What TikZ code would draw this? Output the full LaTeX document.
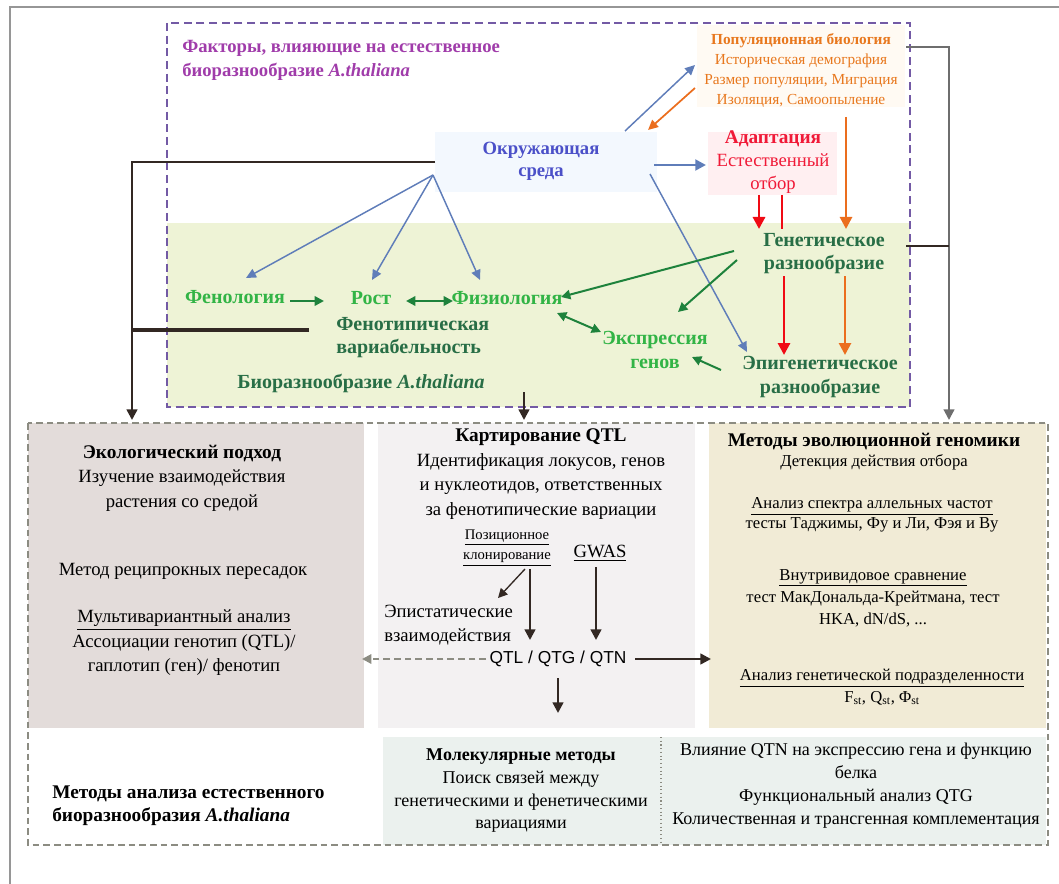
\documentclass[tikz,border=0pt]{standalone}
\usepackage{fontspec}
\setmainfont{Liberation Serif}
\newfontfamily\sansf{Liberation Sans}
\usetikzlibrary{arrows.meta}
\definecolor{framegray}{RGB}{150,150,150}
\definecolor{purpledash}{RGB}{115,90,165}
\definecolor{greenbg}{RGB}{238,243,214}
\definecolor{envbg}{RGB}{243,248,254}
\definecolor{envtxt}{RGB}{75,80,200}
\definecolor{popbg}{RGB}{255,250,243}
\definecolor{poptxt}{RGB}{232,120,30}
\definecolor{adabg}{RGB}{255,239,241}
\definecolor{adatxt}{RGB}{240,25,55}
\definecolor{titlepurple}{RGB}{160,60,170}
\definecolor{lgreen}{RGB}{50,180,70}
\definecolor{dgreen}{RGB}{40,110,70}
\definecolor{agreen}{RGB}{30,130,60}
\definecolor{ablue}{RGB}{95,125,185}
\definecolor{aorange}{RGB}{235,110,30}
\definecolor{ared}{RGB}{240,10,20}
\definecolor{darkc}{RGB}{50,40,35}
\definecolor{graylink}{RGB}{110,110,110}
\definecolor{ecobg}{RGB}{227,220,218}
\definecolor{qtlbg}{RGB}{243,241,242}
\definecolor{evobg}{RGB}{241,235,214}
\definecolor{molbg}{RGB}{235,241,238}
\definecolor{dashgray}{RGB}{140,140,130}
\tikzset{
  lbl/.style={inner sep=0pt, align=center},
  body/.style={font=\fontsize{14}{18.4}\selectfont},
  grtxt/.style={lbl, font=\fontsize{15}{17.3}\selectfont\bfseries},
  bluearr/.style={ablue, line width=1.1pt, -{Triangle[length=7.5pt,width=7pt]}},
  greenarr/.style={agreen, line width=1.5pt, -{Triangle[length=7pt,width=7pt]}},
  greendbl/.style={agreen, line width=1.5pt, {Triangle[length=7pt,width=7pt]}-{Triangle[length=7pt,width=7pt]}},
  redarr/.style={ared, line width=2.2pt, -{Triangle[length=9pt,width=9pt]}},
  orarr/.style={aorange, line width=2pt, -{Triangle[length=9pt,width=9pt]}},
  blackarr/.style={darkc, line width=1.8pt, -{Triangle[length=8pt,width=8pt]}},
}
\begin{document}
\begin{tikzpicture}[x=0.75pt,y=-0.75pt]
\useasboundingbox (0,0) rectangle (1059,884);
% outer frame
\draw[framegray, line width=1.4pt] (10,884) -- (10,7) -- (1059,7);
% upper region backgrounds
\fill[greenbg] (167,223) rectangle (910,407);
\fill[envbg] (435,132) rectangle (657,192);
\fill[popbg] (697,25) rectangle (905,107);
\fill[adabg] (708,132) rectangle (837,195);
\draw[purpledash, line width=1.3pt, dash pattern=on 6pt off 3.5pt] (167,23) rectangle (910,407);
% lower region backgrounds
\fill[ecobg] (28,423) rectangle (364,728);
\fill[qtlbg] (378,423) rectangle (695,728);
\fill[evobg] (709,423) rectangle (1046,728);
\fill[molbg] (383,737) rectangle (1046,845);
\draw[dashgray, line width=0.8pt, dotted] (661,737) -- (661,845);
\draw[dashgray, line width=1.2pt, dash pattern=on 5pt off 3pt] (28,423) rectangle (1048,845);

% ---- upper texts
\node[lbl, anchor=west, align=left, text=titlepurple, font=\fontsize{14}{18}\selectfont\bfseries] (title) at (182,60)
  {Факторы, влияющие на естественное\\биоразнообразие \textit{A.thaliana}};
\node[lbl, text=envtxt, font=\fontsize{14}{16.5}\selectfont\bfseries] (env) at (541,161) {Окружающая\\среда};
\node[lbl, text=poptxt, font=\fontsize{11.5}{15}\selectfont] (pop) at (801,70)
  {\textbf{Популяционная биология}\\Историческая демография\\Размер популяции, Миграция\\Изоляция, Самоопыление};
\node[lbl, text=adatxt, font=\fontsize{14}{17}\selectfont] (ada) at (773,162)
  {{\fontsize{14.5}{17}\selectfont\bfseries Адаптация}\\Естественный\\отбор};
\node[grtxt, text=lgreen] (phen) at (235,297) {Фенология};
\node[grtxt, text=lgreen] (rost) at (371,298) {Рост};
\node[grtxt, text=lgreen] (phys) at (507,298) {Физиология};
\node[grtxt, text=dgreen, anchor=west, align=left] (phvar) at (336,338) {Фенотипическая\\вариабельность};
\node[grtxt, text=dgreen] (bio) at (361,383) {Биоразнообразие \textit{A.thaliana}};
\node[grtxt, text=lgreen] (expr) at (655,350) {Экспрессия\\генов};
\node[grtxt, text=dgreen] (gen) at (824,254) {Генетическое\\разнообразие};
\node[grtxt, text=dgreen] (epi) at (820,377) {Эпигенетическое\\разнообразие};

% ---- lower texts
\node[lbl, body] (eco) at (182,478) {{\fontsize{14.5}{18.4}\selectfont\bfseries Экологический подход}\\Изучение взаимодействия\\растения со средой};
\node[lbl, body] (recip) at (183,571) {Метод реципрокных пересадок};
\node[lbl, body] (multi) at (184,643) {\underline{Мультивариантный анализ}\\Ассоциации генотип (QTL)/\\гаплотип (ген)/ фенотип};
\node[lbl, body] (qtl) at (541,474) {{\fontsize{14.5}{18.4}\selectfont\bfseries Картирование QTL}\\Идентификация локусов, генов\\и нуклеотидов, ответственных\\за фенотипические вариации};
\node[lbl, font=\fontsize{11}{15}\selectfont] (poz) at (507,548) {\underline{Позиционное}\\\underline{клонирование}};
\node[lbl, body] (gwas) at (600,553) {\underline{GWAS}};
\node[lbl, body, anchor=west, align=left] (epist) at (384,625) {Эпистатические\\взаимодействия};
\node[lbl, font=\fontsize{13}{15}\selectfont\sansf] (qtn) at (558,659) {QTL / QTG / QTN};
\node[lbl, font=\fontsize{12.5}{15}\selectfont] (evo) at (874,452) {{\fontsize{14.5}{15}\selectfont\bfseries Методы эволюционной геномики}\\Детекция действия отбора};
\node[lbl, font=\fontsize{12.5}{15}\selectfont] (sfs) at (872,515) {\underline{Анализ спектра аллельных частот}\\тесты Таджимы, Фу и Ли, Фэя и Ву};
\node[lbl, font=\fontsize{12.5}{16.5}\selectfont] (intra) at (873,598) {\underline{Внутривидовое сравнение}\\тест МакДональда-Крейтмана, тест\\HKA, dN/dS, ...};
\node[lbl, font=\fontsize{12.5}{16}\selectfont] (subdiv) at (882,687) {\underline{Анализ генетической подразделенности}\\F\textsubscript{st}, Q\textsubscript{st}, Φ\textsubscript{st}};
\node[lbl, anchor=west, align=left, font=\fontsize{14.5}{17.3}\selectfont\bfseries] (meth) at (52,806) {Методы анализа естественного\\биоразнообразия \textit{A.thaliana}};
\node[lbl, font=\fontsize{13.5}{17}\selectfont] (mol) at (521,791) {\textbf{Молекулярные методы}\\Поиск связей между\\генетическими и фенетическими\\вариациями};
\node[lbl, font=\fontsize{13.5}{17.3}\selectfont] (func) at (856,786) {Влияние QTN на экспрессию гена и функцию\\белка\\Функциональный анализ QTG\\Количественная и трансгенная комплементация};

% ---- coordinates for connector ends
\coordinate (envUR) at (625,131);
\coordinate (popL) at (695,65);
\coordinate (popL2) at (695,88);
\coordinate (envUR2) at (648,130);
\coordinate (envR) at (654,165);
\coordinate (adaL) at (706,165);
\coordinate (envLR) at (650,174);
\coordinate (epiTL) at (747,352);
\coordinate (envBL) at (433,175);
\coordinate (phenT) at (246,278);
\coordinate (rostT) at (372,280);
\coordinate (physT) at (480,280);
\coordinate (adaB1) at (759,195);
\coordinate (genT1) at (759,229);
\coordinate (adaB2) at (782,195);
\coordinate (genT2) at (782,229);
\coordinate (popB) at (846,117);
\coordinate (genT3) at (846,229);
\coordinate (genB1) at (784,276);
\coordinate (epiT1) at (784,355);
\coordinate (genB2) at (845,276);
\coordinate (epiT2) at (845,355);
\coordinate (genL1) at (734,251);
\coordinate (physR) at (561,297);
\coordinate (genL2) at (737,260);
\coordinate (exprT) at (678,312);
\coordinate (physB) at (557,313);
\coordinate (exprL) at (601,332);
\coordinate (epiL) at (721,370);
\coordinate (exprR) at (692,357);
\coordinate (phenR) at (290,301);
\coordinate (rostL) at (324,301);
\coordinate (rostR) at (406,301);
\coordinate (physL) at (453,301);
\coordinate (envL) at (435,162);
\coordinate (leftC) at (132,162);
\coordinate (ecoT) at (132,420);
\coordinate (phvarL) at (309,330);
\coordinate (leftM) at (132,330);
\coordinate (bioB) at (524,392);
\coordinate (qtlT) at (524,420);
\coordinate (popR) at (906,47);
\coordinate (rightC) at (949,47);
\coordinate (evoT) at (949,420);
\coordinate (genR) at (906,246);
\coordinate (rightM) at (949,246);
\coordinate (pozB1) at (525,569);
\coordinate (epistT) at (498,598);
\coordinate (pozB2) at (530,569);
\coordinate (qtnT1) at (530,640);
\coordinate (gwasB) at (596,567);
\coordinate (qtnT2) at (596,640);
\coordinate (qtnL) at (486,659);
\coordinate (ecoR) at (362,659);
\coordinate (qtnR) at (635,659);
\coordinate (evoL) at (711,659);
\coordinate (qtnB) at (558,678);
\coordinate (molT) at (558,713);

% ---- connectors
\draw[bluearr] (envUR) -- (popL);
\draw[aorange, line width=1.3pt, -{Triangle[length=7.5pt,width=7pt]}] (popL2) -- (envUR2);
\draw[ablue, line width=2.2pt, -{Triangle[length=8pt,width=8pt]}] (envR) -- (adaL);
\draw[bluearr] (envLR) -- (epiTL);
\draw[bluearr] (envBL) -- (phenT);
\draw[bluearr] (envBL) -- (rostT);
\draw[bluearr] (envBL) -- (physT);
\draw[redarr] (adaB1) -- (genT1);
\draw[ared, line width=2.2pt] (adaB2) -- (genT2);
\draw[orarr] (popB) -- (genT3);
\draw[redarr] (genB1) -- (epiT1);
\draw[orarr] (genB2) -- (epiT2);
\draw[greenarr] (genL1) -- (physR);
\draw[greenarr] (genL2) -- (exprT);
\draw[greendbl] (physB) -- (exprL);
\draw[greenarr] (epiL) -- (exprR);
\draw[greenarr, line width=2pt] (phenR) -- (rostL);
\draw[greendbl, line width=2pt] (rostR) -- (physL);
\draw[blackarr] (envL) -- (leftC) -- (ecoT);
\draw[darkc, line width=3.6pt] (phvarL) -- (leftM);
\draw[blackarr] (bioB) -- (qtlT);
\draw[graylink, line width=1.6pt, -{Triangle[length=8pt,width=8pt]}] (popR) -- (rightC) -- (evoT);
\draw[darkc, line width=1.8pt] (genR) -- (rightM);
\draw[darkc, line width=1pt, -{Triangle[length=7pt,width=7pt]}] (pozB1) -- (epistT);
\draw[blackarr] (pozB2) -- (qtnT1);
\draw[blackarr] (gwasB) -- (qtnT2);
\draw[dashgray, line width=1.5pt, dash pattern=on 5pt off 3pt, -{Triangle[length=7pt,width=7pt]}] (qtnL) -- (ecoR);
\draw[blackarr] (qtnR) -- (evoL);
\draw[blackarr] (qtnB) -- (molT);
\end{tikzpicture}
\end{document}
